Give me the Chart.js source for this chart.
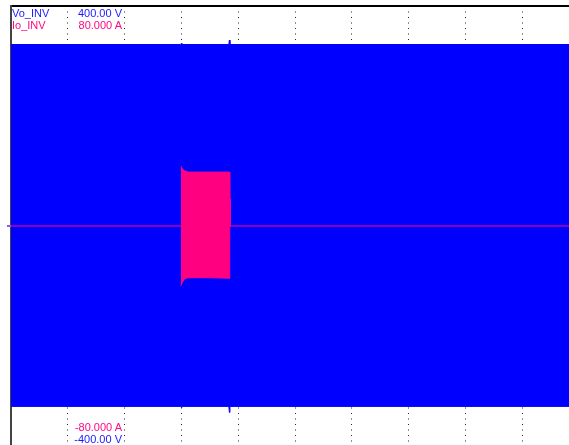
<!DOCTYPE html>
<html>
<head>
<meta charset="utf-8">
<script src="https://cdn.jsdelivr.net/npm/chart.js@4/dist/chart.umd.min.js"></script>
<style>
  html, body { margin: 0; padding: 0; background: #fff; overflow: hidden; width: 569px; height: 445px; }
  #wrap { position: absolute; left: 0; top: 0; width: 580px; height: 452px; }
  .lbl { position: absolute; font-family: "Liberation Sans", Arial, sans-serif; font-size: 11px; line-height: 12px; white-space: nowrap; }
  .r { text-align: right; width: 70px; }
  .blue { color: #1a1aff; }
  .pink { color: #ff0a84; }
</style>
</head>
<body>
<div id="wrap">
  <canvas id="scope" width="580" height="452"></canvas>
  <div class="lbl blue" style="left:12px; top:7px;">Vo_INV</div>
  <div class="lbl pink" style="left:12px; top:19px;">Io_INV</div>
  <div class="lbl blue r" style="left:52px; top:7px;">400.00 V</div>
  <div class="lbl pink r" style="left:52px; top:19px;">80.000 A</div>
  <div class="lbl pink r" style="left:52px; top:421px;">-80.000 A</div>
  <div class="lbl blue r" style="left:52px; top:433px;">-400.00 V</div>
</div>
<script>
// Horizontal axis in screen divisions (10 divisions across the record)
const divisions = [0, 1, 2, 3, 4, 5, 6, 7, 8, 9, 10];

// Vo_INV: envelope of the inverter output voltage (V)
const vTime  = [0, 2.99, 3.0, 3.01, 3.835, 3.845, 3.855, 10];
const vUpper = [330, 330, 332, 330, 330, 338, 330, 330];
const vLower = [-328, -328, -330, -328, -328, -339, -328, -328];

// Io_INV: envelope of the inverter output current burst (A)
const iTime  = [2.99, 3.02, 3.06, 3.12, 3.5, 3.85, 3.851, 3.873];
const iUpper = [21.8, 20.7, 20.0, 19.6, 19.6, 19.6, 9.8, 9.8];
const iLower = [-21.8, -20.3, -19.2, -18.8, -18.8, -19.0, 0, 0];

// Io_INV resting level outside the burst (A)
const iRestTime = [0, 10];
const iRest = [0, 0];

const toPoints = (xs, ys) => xs.map((x, k) => ({ x: x, y: ys[k] }));

const BLUE = '#0000ff';
const PINK = '#ff0080';

// short zero-level marker left of the trace area
const zeroMarker = {
  id: 'zeroMarker',
  afterDraw(chart) {
    const { ctx, chartArea, scales } = chart;
    const y = Math.round(scales.yI.getPixelForValue(0));
    ctx.save();
    ctx.fillStyle = '#8a5ae6';
    ctx.fillRect(chartArea.left - 4, y - 1, 4, 2);
    ctx.restore();
  }
};

new Chart(document.getElementById('scope'), {
  type: 'line',
  data: {
    datasets: [
      { data: toPoints(iTime, iUpper), yAxisID: 'yI', borderColor: PINK, backgroundColor: PINK, borderWidth: 1, fill: '+1', pointRadius: 0 },
      { data: toPoints(iTime, iLower), yAxisID: 'yI', borderColor: PINK, backgroundColor: PINK, borderWidth: 1, fill: false, pointRadius: 0 },
      { data: toPoints(iRestTime, iRest), yAxisID: 'yI', borderColor: 'rgba(255,0,128,0.55)', borderWidth: 2, fill: false, pointRadius: 0 },
      { data: toPoints(vTime, vUpper), yAxisID: 'yV', borderColor: BLUE, backgroundColor: BLUE, borderWidth: 1, fill: '+1', pointRadius: 0 },
      { data: toPoints(vTime, vLower), yAxisID: 'yV', borderColor: BLUE, backgroundColor: BLUE, borderWidth: 1, fill: false, pointRadius: 0 }
    ]
  },
  options: {
    responsive: false,
    animation: false,
    events: [],
    layout: { padding: { left: 11, top: 6, right: 1, bottom: 6 } },
    elements: { line: { tension: 0 } },
    plugins: { legend: { display: false }, tooltip: { enabled: false } },
    scales: {
      x: {
        type: 'linear', position: 'bottom',
        min: divisions[0], max: divisions[divisions.length - 1],
        afterBuildTicks: (axis) => { axis.ticks = divisions.map(v => ({ value: v })); },
        ticks: { display: false },
        grid: { display: true, drawTicks: false, color: '#222', lineWidth: 1 },
        border: { display: false, dash: [1, 4.5] }
      },
      xTop: {
        type: 'linear', position: 'top', min: 0, max: 10,
        ticks: { display: false },
        grid: { display: false, drawTicks: false },
        border: { display: true, color: '#000', width: 2 }
      },
      yV: {
        type: 'linear', position: 'left', min: -400, max: 400,
        ticks: { display: false },
        grid: { display: false, drawTicks: false },
        border: { display: true, color: '#444', width: 2 }
      },
      yI: {
        type: 'linear', position: 'right', min: -80, max: 80, display: false
      }
    }
  },
  plugins: [zeroMarker]
});
</script>
</body>
</html>
